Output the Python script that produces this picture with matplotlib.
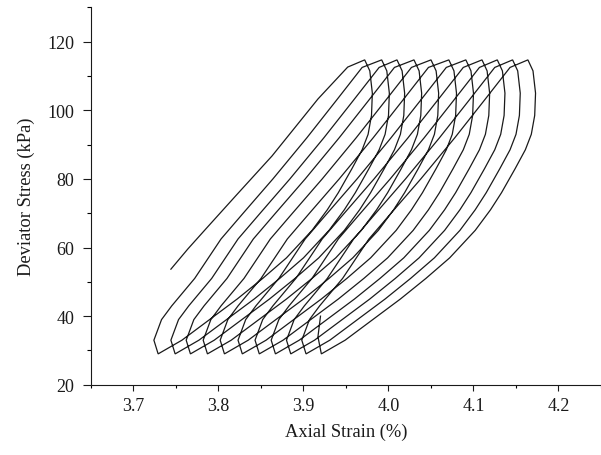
import matplotlib
matplotlib.use("Agg")
import matplotlib.pyplot as plt
from matplotlib.ticker import MultipleLocator

plt.rcParams['font.family'] = ['Liberation Serif', 'DejaVu Serif']

# ---- data ----
# first (virgin) loading branch
start_stress = [53.7, 59.6, 65.4, 75.0, 86.7, 103.3, 112.6, 114.7]
start_strain = [3.744, 3.764, 3.785, 3.820, 3.863, 3.917, 3.952, 3.972]

# stress levels sampled along unloading branches (top -> bottom)
unload_stress = [114.7, 111.5, 105.0, 98.5, 93.0, 88.5, 83.0, 76.0, 71.0, 65.0,
                 57.0, 51.0, 45.0, 38.0, 33.0, 29.0]
unload_strain = [
    [3.972, 3.978, 3.981, 3.980, 3.976, 3.969, 3.957, 3.941, 3.928, 3.910, 3.880, 3.852, 3.822, 3.784, 3.757, 3.729],
    [3.992, 3.998, 4.001, 4.000, 3.996, 3.989, 3.977, 3.961, 3.948, 3.930, 3.900, 3.872, 3.842, 3.804, 3.777, 3.749],
    [4.010, 4.016, 4.019, 4.018, 4.014, 4.007, 3.995, 3.979, 3.966, 3.948, 3.918, 3.890, 3.860, 3.822, 3.795, 3.767],
    [4.030, 4.036, 4.039, 4.038, 4.034, 4.027, 4.015, 3.999, 3.986, 3.968, 3.938, 3.910, 3.880, 3.842, 3.815, 3.787],
    [4.050, 4.056, 4.059, 4.058, 4.054, 4.047, 4.035, 4.019, 4.006, 3.988, 3.958, 3.930, 3.900, 3.862, 3.835, 3.807],
    [4.071, 4.077, 4.080, 4.079, 4.075, 4.068, 4.056, 4.040, 4.027, 4.009, 3.979, 3.951, 3.921, 3.883, 3.856, 3.828],
    [4.091, 4.097, 4.100, 4.099, 4.095, 4.088, 4.076, 4.060, 4.047, 4.029, 3.999, 3.971, 3.941, 3.903, 3.876, 3.848],
    [4.110, 4.116, 4.119, 4.118, 4.114, 4.107, 4.095, 4.079, 4.066, 4.048, 4.018, 3.990, 3.960, 3.922, 3.895, 3.867],
    [4.128, 4.134, 4.137, 4.136, 4.132, 4.125, 4.113, 4.097, 4.084, 4.066, 4.036, 4.008, 3.978, 3.940, 3.913, 3.885],
    [4.146, 4.152, 4.155, 4.154, 4.150, 4.143, 4.131, 4.115, 4.102, 4.084, 4.054, 4.026, 3.996, 3.958, 3.931, 3.903],
    [4.164, 4.170, 4.173, 4.172, 4.168, 4.161, 4.149, 4.133, 4.120, 4.102, 4.072, 4.044, 4.014, 3.976, 3.949, 3.921],
]

# stress levels sampled along reloading branches (bottom -> top)
reload_stress = [29.0, 33.0, 39.0, 43.0, 51.0, 62.5, 70.0, 80.0, 92.0, 103.0, 112.5, 114.7]
reload_strain = [
    [3.729, 3.724, 3.733, 3.745, 3.772, 3.803, 3.829, 3.864, 3.904, 3.939, 3.969, 3.992],
    [3.749, 3.744, 3.753, 3.765, 3.792, 3.823, 3.849, 3.884, 3.924, 3.959, 3.989, 4.010],
    [3.767, 3.762, 3.771, 3.783, 3.810, 3.841, 3.867, 3.902, 3.942, 3.977, 4.007, 4.030],
    [3.787, 3.782, 3.791, 3.803, 3.830, 3.861, 3.887, 3.922, 3.962, 3.997, 4.027, 4.050],
    [3.807, 3.802, 3.811, 3.823, 3.850, 3.881, 3.907, 3.942, 3.982, 4.017, 4.047, 4.071],
    [3.828, 3.823, 3.832, 3.844, 3.871, 3.902, 3.928, 3.963, 4.003, 4.038, 4.068, 4.091],
    [3.848, 3.843, 3.852, 3.864, 3.891, 3.922, 3.948, 3.983, 4.023, 4.058, 4.088, 4.110],
    [3.867, 3.862, 3.871, 3.883, 3.910, 3.941, 3.967, 4.002, 4.042, 4.077, 4.107, 4.128],
    [3.885, 3.880, 3.889, 3.901, 3.928, 3.959, 3.985, 4.020, 4.060, 4.095, 4.125, 4.146],
    [3.903, 3.898, 3.907, 3.919, 3.946, 3.977, 4.003, 4.038, 4.078, 4.113, 4.143, 4.164],
]

# last short reloading piece
end_stress = [29.0, 34.0, 40.0]
end_strain = [3.921, 3.917, 3.920]

x_ticks = [3.7, 3.8, 3.9, 4.0, 4.1, 4.2]
y_ticks = [20, 40, 60, 80, 100, 120]

# ---- assemble one continuous path ----
xs = list(start_strain)
ys = list(start_stress)
for i in range(len(unload_strain)):
    xs += unload_strain[i][1:]
    ys += unload_stress[1:]
    if i < len(reload_strain):
        xs += reload_strain[i][1:]
        ys += reload_stress[1:]
xs += end_strain[1:]
ys += end_stress[1:]

fig = plt.figure(figsize=(6.01, 4.56), dpi=100)
ax = fig.add_axes([0.1514, 0.154, 0.8486, 0.8276])
ax.plot(xs, ys, color='#1a1a1a', linewidth=0.9, solid_joinstyle='miter')

ax.set_xlim(3.65, 4.25)
ax.set_ylim(20, 130)
ax.set_xticks(x_ticks)
ax.set_xticklabels([f"{v:.1f}" for v in x_ticks])
ax.set_yticks(y_ticks)
ax.xaxis.set_minor_locator(MultipleLocator(0.05))
ax.yaxis.set_minor_locator(MultipleLocator(10))

for s in ['top', 'right']:
    ax.spines[s].set_visible(False)
for s in ['left', 'bottom']:
    ax.spines[s].set_linewidth(0.8)
    ax.spines[s].set_color('#1a1a1a')

ax.tick_params(axis='x', which='major', direction='out', length=4, width=0.8, pad=5,
               labelsize=13, colors='#1a1a1a')
ax.tick_params(axis='x', which='minor', direction='out', length=2.4, width=0.8)
ax.tick_params(axis='y', which='major', direction='out', length=5.8, width=0.8, pad=6,
               labelsize=13, colors='#1a1a1a')
ax.tick_params(axis='y', which='minor', direction='out', length=3, width=0.8)

ax.set_xlabel('Axial Strain (%)', fontsize=13.3, color='#1a1a1a', labelpad=6)
ax.set_ylabel('Deviator Stress (kPa)', fontsize=13.3, color='#1a1a1a', labelpad=9)

fig.savefig('out.png', dpi=100)
